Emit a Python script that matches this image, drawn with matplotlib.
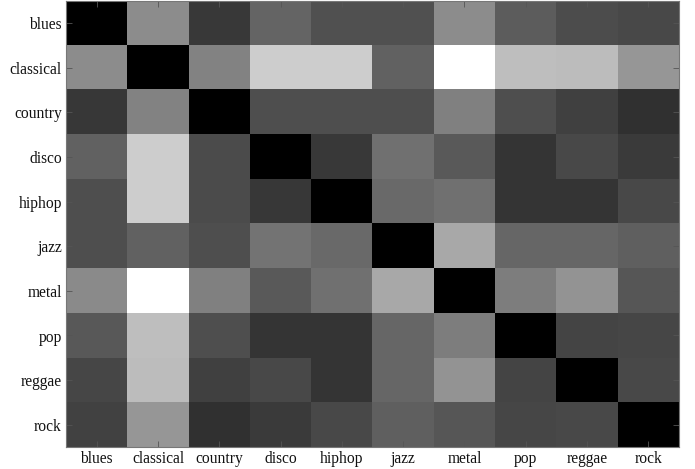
import matplotlib
matplotlib.use("Agg")
import matplotlib.pyplot as plt
import numpy as np

genres = ["blues", "classical", "country", "disco", "hiphop",
          "jazz", "metal", "pop", "reggae", "rock"]

# gray level (0 = black, 255 = white) for each cell, row by row
blues_row     = [0, 140, 56, 100, 80, 80, 140, 92, 76, 72]
classical_row = [140, 0, 130, 205, 205, 98, 255, 190, 188, 150]
country_row   = [55, 130, 0, 78, 78, 78, 128, 78, 64, 48]
disco_row     = [98, 205, 75, 0, 56, 112, 90, 52, 72, 58]
hiphop_row    = [78, 205, 75, 55, 0, 105, 112, 52, 52, 72]
jazz_row      = [78, 98, 78, 115, 105, 0, 168, 102, 102, 95]
metal_row     = [138, 255, 128, 90, 112, 168, 0, 125, 148, 86]
pop_row       = [88, 190, 78, 52, 52, 102, 125, 0, 68, 70]
reggae_row    = [70, 188, 64, 72, 52, 102, 148, 68, 0, 72]
rock_row      = [65, 150, 48, 58, 72, 95, 86, 70, 72, 0]

M = np.array([blues_row, classical_row, country_row, disco_row, hiphop_row,
              jazz_row, metal_row, pop_row, reggae_row, rock_row], dtype=float)

fig = plt.figure(figsize=(6.95, 4.69), dpi=100)
ax = fig.add_axes([66/695, 22/469, 613/695, 446/469])
ax.imshow(M, cmap="gray", vmin=0, vmax=255, aspect="auto",
          interpolation="nearest")

ax.set_xticks(range(len(genres)))
ax.set_yticks(range(len(genres)))
font = dict(family="Liberation Serif", size=11.2)
ax.set_xticklabels(genres, **font)
ax.set_yticklabels(genres, **font)
ax.tick_params(direction="in", length=4, width=0.6, color="#555555",
               labelcolor="#111111", top=True, right=True, pad=3)
for s in ax.spines.values():
    s.set_color("#777777")
    s.set_linewidth(0.8)

fig.savefig("out.png", dpi=100)
